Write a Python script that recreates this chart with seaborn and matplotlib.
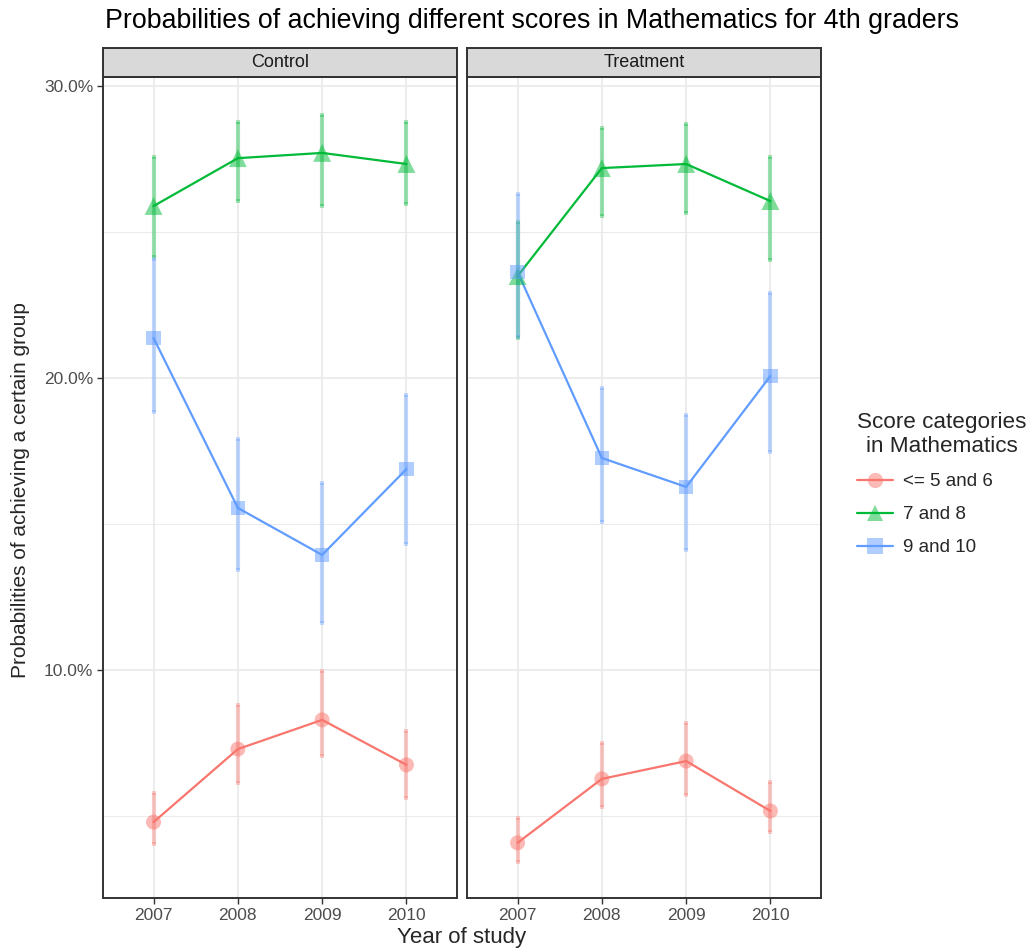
import pandas as pd
import matplotlib.pyplot as plt
import matplotlib.colors as mcolors
import seaborn as sns
from matplotlib.lines import Line2D
from matplotlib.patches import Rectangle
from matplotlib.ticker import FixedLocator, FuncFormatter

# --- data (percent) ---
years = [2007, 2008, 2009, 2010]
groups = ["Control", "Treatment"]
categories = ["<= 5 and 6", "7 and 8", "9 and 10"]

control_low = [4.79, 7.29, 8.29, 6.75]
control_low_lo = [4.03, 6.12, 7.05, 5.61]
control_low_hi = [5.80, 8.80, 9.98, 7.91]
control_mid = [25.89, 27.53, 27.71, 27.33]
control_mid_lo = [24.15, 26.06, 25.90, 25.95]
control_mid_hi = [27.57, 28.78, 29.01, 28.77]
control_top = [21.37, 15.55, 13.94, 16.88]
control_top_lo = [18.85, 13.42, 11.62, 14.31]
control_top_hi = [24.08, 17.91, 16.40, 19.42]

treat_low = [4.08, 6.27, 6.88, 5.17]
treat_low_lo = [3.43, 5.32, 5.72, 4.46]
treat_low_hi = [4.92, 7.49, 8.17, 6.18]
treat_mid = [23.49, 27.19, 27.33, 26.06]
treat_mid_lo = [21.38, 25.55, 25.64, 24.04]
treat_mid_hi = [25.33, 28.55, 28.69, 27.56]
treat_top = [23.63, 17.26, 16.27, 20.07]
treat_top_lo = [21.40, 15.08, 14.11, 17.45]
treat_top_hi = [26.29, 19.65, 18.73, 22.90]

series = {
    ("Control", "<= 5 and 6"): (control_low, control_low_lo, control_low_hi),
    ("Control", "7 and 8"): (control_mid, control_mid_lo, control_mid_hi),
    ("Control", "9 and 10"): (control_top, control_top_lo, control_top_hi),
    ("Treatment", "<= 5 and 6"): (treat_low, treat_low_lo, treat_low_hi),
    ("Treatment", "7 and 8"): (treat_mid, treat_mid_lo, treat_mid_hi),
    ("Treatment", "9 and 10"): (treat_top, treat_top_lo, treat_top_hi),
}
rows = []
for (grp, cat), (vals, lo, hi) in series.items():
    for yr, v, l, h in zip(years, vals, lo, hi):
        rows.append({"group": grp, "year": yr, "category": cat, "prob": v, "lo": l, "hi": h})
df = pd.DataFrame(rows)

palette = {"<= 5 and 6": "#F8766D", "7 and 8": "#00BA38", "9 and 10": "#619CFF"}
markers = {"<= 5 and 6": "o", "7 and 8": "^", "9 and 10": "s"}
msizes = {"<= 5 and 6": 117, "7 and 8": 165, "9 and 10": 109}

sns.set_theme(style="white")
plt.rcParams["font.family"] = ["Liberation Sans", "DejaVu Sans"]

fig = plt.figure(figsize=(10.32, 9.51), dpi=100)
W, H = 1032, 951
panel_left = [103, 467]
panel_w = 354
top_px, bottom_px = 77, 898
strip_h = 29

for i, grp in enumerate(groups):
    ax = fig.add_axes([panel_left[i] / W, 1 - bottom_px / H, panel_w / W, (bottom_px - top_px) / H])
    sub = df[df["group"] == grp]

    ax.set_xlim(2006.4, 2010.6)
    ax.set_ylim(2.19, 30.31)
    ax.yaxis.set_major_locator(FixedLocator([10, 20, 30]))
    ax.yaxis.set_minor_locator(FixedLocator([5, 15, 25]))
    ax.xaxis.set_major_locator(FixedLocator(years))
    ax.grid(which="major", color="#EBEBEB", lw=1.3, zorder=0)
    ax.grid(which="minor", axis="y", color="#EBEBEB", lw=0.7, zorder=0)
    ax.set_axisbelow(True)

    # error bars
    for cat in categories:
        s = sub[sub["category"] == cat]
        ax.vlines(s["year"], s["lo"], s["hi"], color=palette[cat], lw=3, alpha=0.4, zorder=2)
        ax.plot(s["year"], s["lo"], "s", ms=2.5, mew=0, color=palette[cat], alpha=0.35, zorder=2)
        ax.plot(s["year"], s["hi"], "s", ms=2.5, mew=0, color=palette[cat], alpha=0.35, zorder=2)

    sns.lineplot(data=sub, x="year", y="prob", hue="category", hue_order=categories,
                 palette=palette, lw=1.6, ax=ax, legend=False, zorder=3)
    sns.scatterplot(data=sub, x="year", y="prob", hue="category", hue_order=categories,
                    style="category", markers=markers, size="category", sizes=msizes,
                    palette=palette, alpha=0.5, linewidth=0, ax=ax, legend=False, zorder=4)

    ax.set_xlabel("")
    ax.set_ylabel("")
    ax.set_xticklabels([str(y) for y in years])
    ax.tick_params(axis="both", which="major", length=4, width=1, color="#333333",
                   labelsize=12.5, labelcolor="#4D4D4D", bottom=True, left=(i == 0), pad=3)
    ax.tick_params(axis="y", which="minor", length=0)
    ax.yaxis.set_major_formatter(FuncFormatter(lambda v, p: f"{v:.1f}%"))
    if i == 1:
        ax.set_yticklabels([])
    for sp in ax.spines.values():
        sp.set_color("#333333")
        sp.set_linewidth(1.4)

    # facet strip
    strip = fig.add_axes([panel_left[i] / W, 1 - top_px / H, panel_w / W, strip_h / H])
    strip.add_patch(Rectangle((0, 0), 1, 1, transform=strip.transAxes, facecolor="#D9D9D9",
                              edgecolor="#333333", lw=1.4))
    strip.set_xticks([])
    strip.set_yticks([])
    for sp in strip.spines.values():
        sp.set_color("#333333")
        sp.set_linewidth(1.4)
    strip.text(0.5, 0.5, grp, ha="center", va="center", fontsize=13, color="#1A1A1A")

fig.text(105 / W, 1 - 21 / H, "Probabilities of achieving different scores in Mathematics for 4th graders",
         ha="left", va="center", fontsize=19.3, color="black")
fig.text(462 / W, 1 - 938 / H, "Year of study", ha="center", va="center", fontsize=16)
fig.text(21 / W, 1 - 490 / H, "Probabilities of achieving a certain group", ha="center",
         va="center", rotation=90, fontsize=15)

handles = [Line2D([0], [0], color=palette[c], lw=1.6, marker=markers[c], markersize=11,
                  markerfacecolor=(*mcolors.to_rgb(palette[c]), 0.5),
                  markeredgewidth=0) for c in categories]
leg = fig.legend(handles, categories, title="Score categories\nin Mathematics", loc="center left",
                 bbox_to_anchor=(840 / W, 1 - 484 / H), frameon=False, fontsize=13.5,
                 title_fontsize=16.2, handlelength=1.9, handletextpad=0.55, labelspacing=0.85,
                 alignment="left")
leg.get_title().set_multialignment("center")

fig.savefig("out.png", dpi=100)
